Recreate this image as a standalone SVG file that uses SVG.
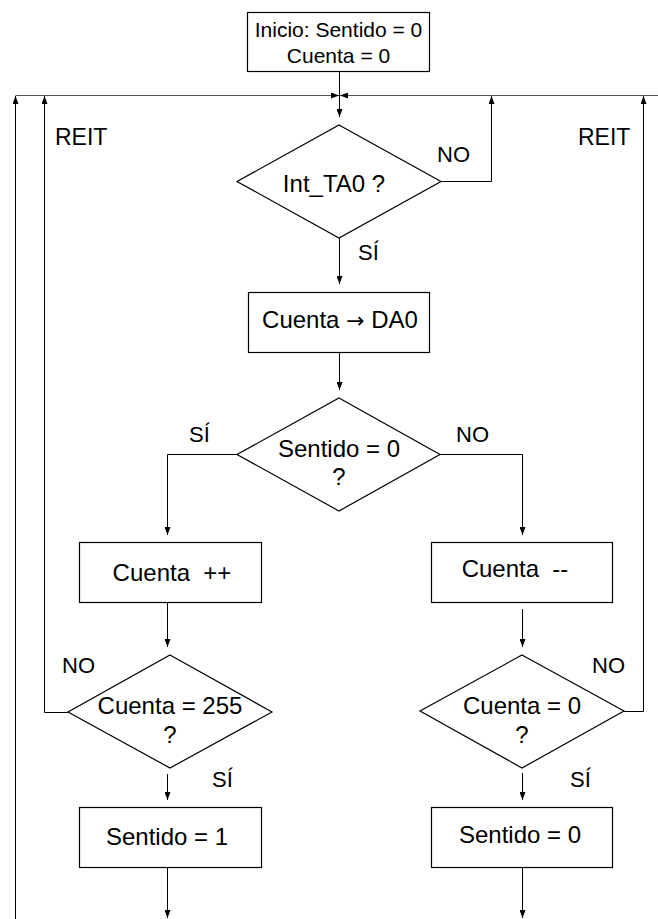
<svg xmlns="http://www.w3.org/2000/svg" width="658" height="919" viewBox="0 0 658 919">
<style>
  .shape { fill: #ffffff; stroke: #000000; stroke-width: 1.2; }
  .line { fill: none; stroke: #000000; stroke-width: 1; }
  .hline { fill: none; stroke: #555555; stroke-width: 1.2; }
  text { font-family: "Liberation Sans", Arial, sans-serif; fill: #000000; }
  .t { font-size: 24px; text-anchor: middle; }
  .s { font-size: 22px; }
  .st { font-size: 21px; text-anchor: middle; }
  .r { font-size: 23px; }
  .arrow { font-family: "DejaVu Sans", sans-serif; font-size: 22px; }
</style>
<defs>
  <marker id="ah" viewBox="0 0 8 6" refX="8" refY="3" markerWidth="8" markerHeight="6" orient="auto" markerUnits="userSpaceOnUse">
    <path d="M0,0 L8,3 L0,6 z" fill="#000000"/>
  </marker>
</defs>

<g id="connectors">
  <path class="hline" d="M15.5,95.5 H339" marker-end="url(#ah)"/>
  <path class="hline" d="M658,95.5 H340" marker-end="url(#ah)"/>
  <path class="line" d="M339.5,72 V117" marker-end="url(#ah)"/>
  <path class="line" d="M15.5,919 V96" marker-end="url(#ah)"/>
  <path class="line" d="M441,181.5 H491.5 V96" marker-end="url(#ah)"/>
  <path class="line" d="M339.5,238 V284" marker-end="url(#ah)"/>
  <path class="line" d="M339.5,352 V390" marker-end="url(#ah)"/>
  <path class="line" d="M237,454.5 H167.5 V535" marker-end="url(#ah)"/>
  <path class="line" d="M440,454.5 H522.5 V535" marker-end="url(#ah)"/>
  <path class="line" d="M167.5,602 V647" marker-end="url(#ah)"/>
  <path class="line" d="M522.5,609 V647" marker-end="url(#ah)"/>
  <path class="line" d="M68,712.5 H44.5 V96" marker-end="url(#ah)"/>
  <path class="line" d="M624,711.5 H643.5 V96" marker-end="url(#ah)"/>
  <path class="line" d="M167.5,774 V800" marker-end="url(#ah)"/>
  <path class="line" d="M522.5,773 V800" marker-end="url(#ah)"/>
  <path class="line" d="M167.5,867 V918" marker-end="url(#ah)"/>
  <path class="line" d="M522.5,867 V918" marker-end="url(#ah)"/>
</g>

<g id="inicio">
  <rect class="shape" x="247.5" y="12.5" width="182" height="59"/>
  <text class="st" x="338.5" y="37">Inicio: Sentido = 0</text>
  <text class="st" x="338.5" y="63">Cuenta = 0</text>
</g>

<g id="int_ta0">
  <polygon class="shape" points="339,125 441,181.5 339,238 237,181.5"/>
  <text class="t" x="334" y="192">Int_TA0 ?</text>
</g>

<g id="cuenta_da0">
  <rect class="shape" x="248.5" y="292.5" width="181" height="60"/>
  <text class="t" x="340" y="328">Cuenta <tspan class="arrow">→</tspan> DA0</text>
</g>

<g id="sentido_test">
  <polygon class="shape" points="339,398 440,454.5 339,511 237,454.5"/>
  <text class="t" x="339" y="457">Sentido = 0</text>
  <text class="t" x="339" y="485">?</text>
</g>

<g id="cuenta_inc">
  <rect class="shape" x="79.5" y="542.5" width="182" height="60"/>
  <text class="t" x="172" y="581" xml:space="preserve">Cuenta  ++</text>
</g>

<g id="cuenta_dec">
  <rect class="shape" x="431.5" y="542.5" width="181" height="60"/>
  <text class="t" x="515" y="577" xml:space="preserve">Cuenta  --</text>
</g>

<g id="cuenta_255">
  <polygon class="shape" points="170,655 272,712 170,768 68,712"/>
  <text class="t" x="170" y="714">Cuenta = 255</text>
  <text class="t" x="170" y="743">?</text>
</g>

<g id="cuenta_0">
  <polygon class="shape" points="522,655 624,711 522,768 420,711"/>
  <text class="t" x="522" y="714">Cuenta = 0</text>
  <text class="t" x="522" y="743">?</text>
</g>

<g id="sentido_1">
  <rect class="shape" x="79.5" y="807.5" width="182" height="60"/>
  <text class="t" x="167" y="845">Sentido = 1</text>
</g>

<g id="sentido_0">
  <rect class="shape" x="431.5" y="807.5" width="181" height="60"/>
  <text class="t" x="520" y="843">Sentido = 0</text>
</g>

<g id="labels">
  <text class="r" x="55" y="145">REIT</text>
  <text class="r" x="578" y="145">REIT</text>
  <text class="s" x="437" y="162">NO</text>
  <text class="s" x="358" y="260">SÍ</text>
  <text class="s" x="189" y="442">SÍ</text>
  <text class="s" x="456" y="442">NO</text>
  <text class="s" x="62" y="673">NO</text>
  <text class="s" x="592" y="673">NO</text>
  <text class="s" x="212" y="787">SÍ</text>
  <text class="s" x="570" y="787">SÍ</text>
</g>
</svg>
